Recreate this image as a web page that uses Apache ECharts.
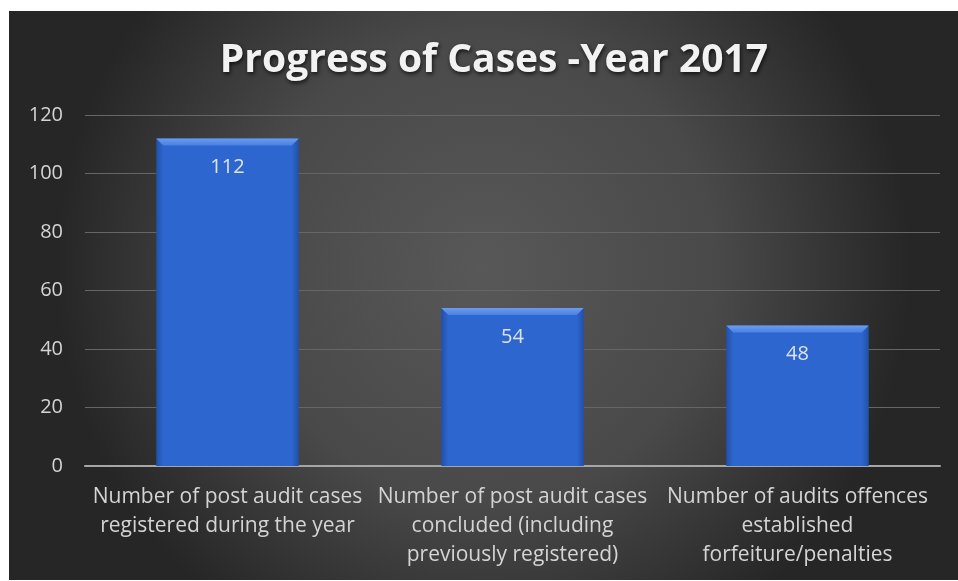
<!DOCTYPE html>
<html>
<head>
<meta charset="utf-8">
<script src="https://cdn.jsdelivr.net/npm/echarts@6/dist/echarts.min.js"></script>
<style>
  html, body { margin: 0; padding: 0; background: #ffffff; }
  #chart { width: 958px; height: 581px; }
</style>
</head>
<body>
<div id="chart"></div>
<script>
// Chart text and values
const chartTitle = 'Progress of Cases -Year 2017';
const categories = [
  'Number of post audit cases\nregistered during the year',
  'Number of post audit cases\nconcluded (including\npreviously registered)',
  'Number of audits offences\nestablished\nforfeiture/penalties'
];
const caseCounts = [112, 54, 48];
const yMin = 0;
const yMax = 120;
const yStep = 20;

const FONT = '"Open Sans", "Noto Sans", sans-serif';
const chart = echarts.init(document.getElementById('chart'), null, { renderer: 'canvas' });

// Bar body: slightly darker at the side edges
const barFill = new echarts.graphic.LinearGradient(0, 0, 1, 0, [
  { offset: 0, color: '#2150a8' },
  { offset: 0.05, color: '#2e66cf' },
  { offset: 0.95, color: '#2e66cf' },
  { offset: 1, color: '#2150a8' }
]);

function renderBar(params, api) {
  const idx = api.value(0);
  const v = api.value(1);
  const top = api.coord([idx, v]);
  const base = api.coord([idx, 0]);
  const w = api.size([1, 0])[0] * 0.5;
  const x0 = top[0] - w / 2;
  const h = base[1] - top[1];
  const bevel = 7;
  return {
    type: 'group',
    children: [
      { type: 'rect', shape: { x: x0, y: top[1], width: w, height: h }, style: { fill: barFill } },
      {
        type: 'polygon',
        shape: { points: [[x0, top[1]], [x0 + w, top[1]], [x0 + w - bevel, top[1] + bevel], [x0 + bevel, top[1] + bevel]] },
        style: {
          fill: new echarts.graphic.LinearGradient(0, 0, 0, 1, [
            { offset: 0, color: '#6a9cf0' },
            { offset: 1, color: '#4a80e0' }
          ])
        }
      },
      {
        type: 'text',
        style: {
          text: String(v), x: top[0], y: top[1] + 29,
          align: 'center', verticalAlign: 'middle',
          fill: '#dde3ee', font: '20px ' + FONT
        }
      }
    ]
  };
}

chart.setOption({
  animation: false,
  graphic: [
    {
      type: 'rect', z: -10, silent: true,
      shape: { x: 9, y: 11, width: 949, height: 569 },
      style: {
        fill: new echarts.graphic.RadialGradient(0.5, 0.45, 0.75, [
          { offset: 0, color: '#585858' },
          { offset: 0.55, color: '#494949' },
          { offset: 1, color: '#262626' }
        ])
      }
    }
  ],
  title: {
    text: chartTitle,
    left: 489, top: 36, textAlign: 'center',
    textStyle: {
      fontFamily: FONT, fontWeight: 'bold', fontSize: 39, color: '#f2f2f2',
      textShadowColor: 'rgba(0,0,0,0.75)', textShadowBlur: 4, textShadowOffsetX: 1, textShadowOffsetY: 2
    }
  },
  grid: { left: 85, right: 18, top: 115, bottom: 115, containLabel: false },
  xAxis: {
    type: 'category',
    data: categories,
    axisLine: { lineStyle: { color: '#a6a6a6', width: 2 } },
    axisTick: { show: false },
    axisLabel: {
      color: '#d4d4d4', fontFamily: FONT, fontSize: 21, lineHeight: 29, margin: 17, interval: 0
    }
  },
  yAxis: {
    type: 'value',
    min: yMin, max: yMax, interval: yStep,
    axisLine: { show: false },
    axisTick: { show: false },
    axisLabel: { color: '#d4d4d4', fontFamily: FONT, fontSize: 20, margin: 22 },
    splitLine: { lineStyle: { color: '#666666', width: 1 } }
  },
  series: [{
    type: 'custom',
    renderItem: renderBar,
    encode: { x: 0, y: 1 },
    data: caseCounts.map((v, i) => [i, v])
  }]
});
</script>
</body>
</html>
